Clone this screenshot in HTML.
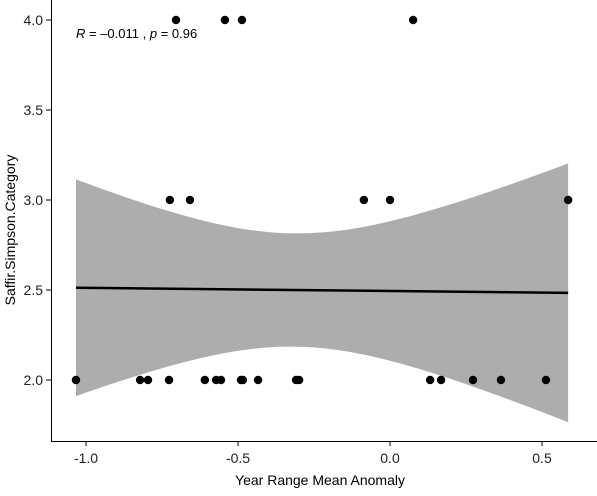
<!DOCTYPE html>
<html><head><meta charset="utf-8"><style>
body{margin:0;background:#fff;font-family:"Liberation Sans",Arial,sans-serif}
svg text{font-family:"Liberation Sans",Arial,sans-serif}
</style></head><body>
<svg id="chart" width="597" height="491"></svg>
<script>
const xs4=[-0.704,-0.543,-0.487,0.076];
const xs3=[-0.724,-0.658,-0.086,0,0.586];
const xs2=[-1.033,-0.822,-0.796,-0.727,-0.609,-0.572,-0.556,-0.49,-0.484,-0.434,-0.309,-0.299,0.132,0.168,0.273,0.365,0.513];
const xTicks=[-1.0,-0.5,0.0,0.5];
const xTickLabels=["-1.0","-0.5","0.0","0.5"];
const yTicks=[2.0,2.5,3.0,3.5,4.0];
const yTickLabels=["2.0","2.5","3.0","3.5","4.0"];

const NS="http://www.w3.org/2000/svg";
const svg=document.getElementById('chart');
const X=v=>390+v*304;
const Y=v=>380-(v-2)*180;
function mk(t,a,p){const e=document.createElementNS(NS,t);for(const k in a)e.setAttribute(k,a[k]);(p||svg).appendChild(e);return e;}

const pts=[];
xs4.forEach(x=>pts.push([x,4]));xs3.forEach(x=>pts.push([x,3]));xs2.forEach(x=>pts.push([x,2]));
const n=pts.length;
const mx=pts.reduce((s,p)=>s+p[0],0)/n, my=pts.reduce((s,p)=>s+p[1],0)/n;
let sxx=0,sxy=0;pts.forEach(p=>{sxx+=(p[0]-mx)**2;sxy+=(p[0]-mx)*(p[1]-my);});
const b=sxy/sxx,a=my-b*mx;
let sse=0;pts.forEach(p=>{sse+=(p[1]-a-b*p[0])**2;});
const s=Math.sqrt(sse/(n-2)),t=2.064;
const xmin=Math.min(...pts.map(p=>p[0])),xmax=Math.max(...pts.map(p=>p[0]));
const up=[],lo=[];
for(let i=0;i<=80;i++){const x=xmin+(xmax-xmin)*i/80;const f=a+b*x;const se=s*Math.sqrt(1/n+(x-mx)**2/sxx);
up.push(X(x).toFixed(1)+','+Y(f+t*se).toFixed(1));lo.unshift(X(x).toFixed(1)+','+Y(f-t*se).toFixed(1));}
const band=mk('polygon',{points:up.concat(lo).join(' '),fill:'#999',opacity:0.8});


const line=mk('line',{x1:X(xmin),y1:Y(a+b*xmin),x2:X(xmax),y2:Y(a+b*xmax),stroke:'#000','stroke-width':2.5});



pts.forEach(p=>{const c=mk('circle',{cx:X(p[0]),cy:Y(p[1]),r:4.2,fill:'#000'});

});

const ax=mk('path',{d:'M51.5,0 V441.5 H597',stroke:'#000',fill:'none','stroke-width':1});


xTicks.forEach((v,i)=>{mk('line',{x1:X(v),x2:X(v),y1:441,y2:446,stroke:'#000'});
const tx=mk('text',{x:X(v),y:463,'text-anchor':'middle','font-size':14,fill:'#222'});tx.textContent=xTickLabels[i];

});
yTicks.forEach((v,i)=>{mk('line',{x1:46,x2:51,y1:Y(v),y2:Y(v),stroke:'#000'});
const tx=mk('text',{x:43,y:Y(v)+5,'text-anchor':'end','font-size':14,fill:'#222'});tx.textContent=yTickLabels[i];

});
const xt=mk('text',{x:320,y:485,'text-anchor':'middle','font-size':14,fill:'#000'});xt.textContent='Year Range Mean Anomaly';


const yt=mk('text',{x:0,y:0,'text-anchor':'middle','font-size':14,fill:'#000',transform:'translate(15,230) rotate(-90)'});yt.textContent='Saffir.Simpson.Category';


const st=mk('text',{x:76,y:38,'font-size':13,fill:'#000'});
st.innerHTML='<tspan font-style="italic">R</tspan> = \u20130.011 , <tspan font-style="italic">p</tspan> = 0.96';


</script>
</body></html>
